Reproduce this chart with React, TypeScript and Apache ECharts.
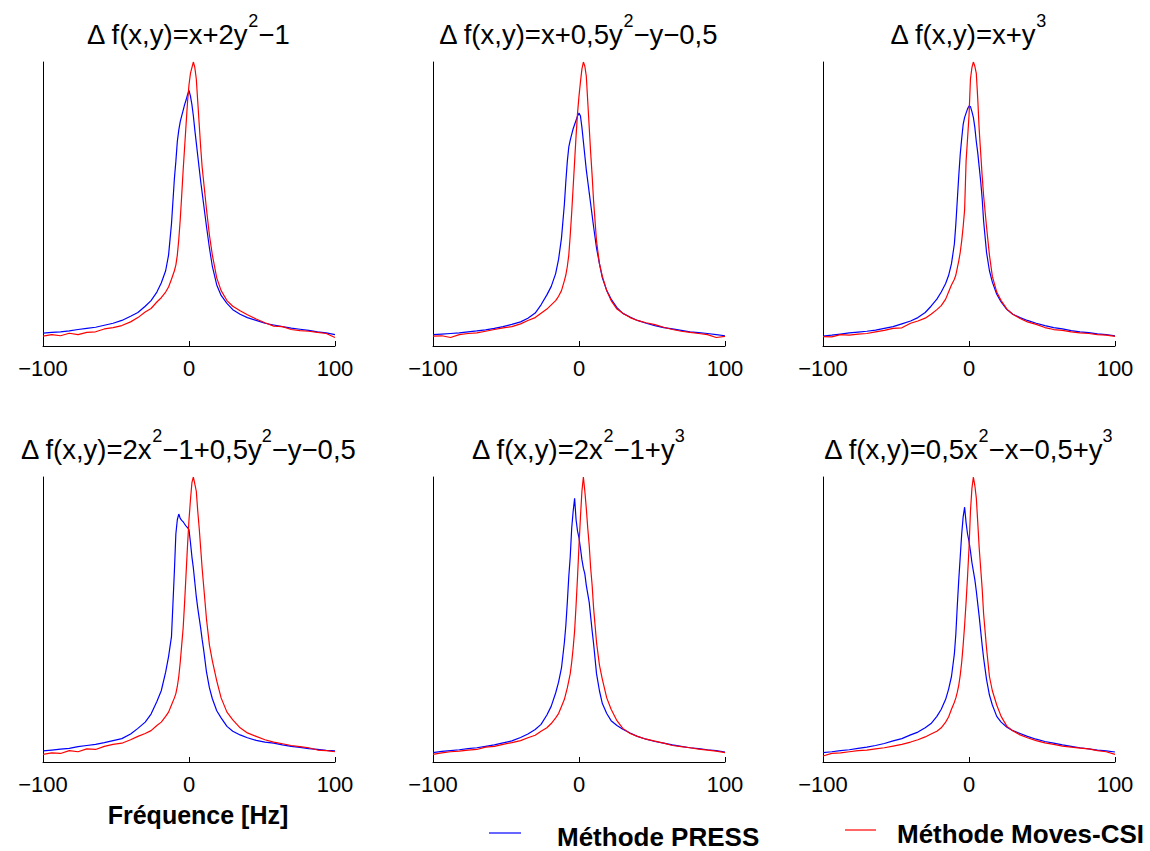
import React, { useEffect, useRef } from "react";
import * as echarts from "echarts";

const FONT = '"Liberation Sans", Arial, Helvetica, sans-serif';

const freq = [-100, -94, -88, -82, -76, -70, -64, -58, -52, -46, -40, -35, -30, -26, -22, -19, -16, -14, -12, -10, -9, -8, -7, -6, -5, -4, -3, -2, -1, 0, 1, 2, 3, 4, 5, 6, 7, 8, 9, 10, 12, 14, 16, 19, 22, 26, 30, 35, 40, 46, 52, 58, 64, 70, 76, 82, 88, 94, 100];

const press1 = [0.045, 0.048, 0.05, 0.053, 0.058, 0.062, 0.066, 0.073, 0.08, 0.09, 0.105, 0.118, 0.14, 0.16, 0.19, 0.222, 0.265, 0.32, 0.43, 0.59, 0.65, 0.72, 0.76, 0.79, 0.81, 0.83, 0.85, 0.866, 0.885, 0.9, 0.88, 0.85, 0.81, 0.76, 0.715, 0.67, 0.625, 0.58, 0.54, 0.5, 0.42, 0.345, 0.28, 0.215, 0.178, 0.15, 0.128, 0.112, 0.1, 0.09, 0.08, 0.074, 0.068, 0.063, 0.059, 0.055, 0.05, 0.046, 0.04];
const moves1 = [0.035, 0.04, 0.036, 0.045, 0.04, 0.048, 0.05, 0.06, 0.065, 0.072, 0.085, 0.1, 0.12, 0.132, 0.155, 0.17, 0.19, 0.208, 0.235, 0.265, 0.285, 0.32, 0.375, 0.445, 0.53, 0.62, 0.7, 0.78, 0.86, 0.92, 0.96, 0.98, 1.0, 0.98, 0.94, 0.86, 0.78, 0.7, 0.63, 0.58, 0.48, 0.39, 0.32, 0.24, 0.195, 0.16, 0.14, 0.124, 0.11, 0.095, 0.082, 0.07, 0.068, 0.058, 0.054, 0.052, 0.048, 0.044, 0.03];

const press2 = [0.04, 0.042, 0.044, 0.046, 0.05, 0.053, 0.057, 0.062, 0.068, 0.076, 0.085, 0.098, 0.116, 0.145, 0.18, 0.21, 0.255, 0.305, 0.38, 0.5, 0.58, 0.65, 0.7, 0.725, 0.745, 0.765, 0.78, 0.795, 0.81, 0.82, 0.81, 0.77, 0.72, 0.67, 0.62, 0.58, 0.54, 0.5, 0.46, 0.42, 0.345, 0.29, 0.24, 0.195, 0.165, 0.135, 0.115, 0.102, 0.09, 0.08, 0.072, 0.065, 0.06, 0.055, 0.05, 0.047, 0.044, 0.04, 0.036];
const moves2 = [0.035, 0.036, 0.03, 0.04, 0.044, 0.046, 0.052, 0.058, 0.064, 0.068, 0.078, 0.09, 0.1, 0.115, 0.13, 0.145, 0.16, 0.175, 0.195, 0.23, 0.25, 0.28, 0.32, 0.39, 0.47, 0.56, 0.65, 0.74, 0.82, 0.88, 0.93, 0.975, 1.0, 0.985, 0.95, 0.86, 0.77, 0.68, 0.6, 0.51, 0.37, 0.29, 0.245, 0.195, 0.16, 0.13, 0.115, 0.1, 0.09, 0.082, 0.075, 0.066, 0.058, 0.052, 0.048, 0.044, 0.04, 0.03, 0.034];

const press3 = [0.035, 0.038, 0.042, 0.046, 0.049, 0.052, 0.056, 0.062, 0.068, 0.078, 0.088, 0.1, 0.118, 0.14, 0.165, 0.19, 0.22, 0.248, 0.29, 0.36, 0.43, 0.515, 0.6, 0.675, 0.73, 0.78, 0.805, 0.82, 0.835, 0.845, 0.843, 0.825, 0.805, 0.77, 0.72, 0.68, 0.63, 0.58, 0.52, 0.44, 0.33, 0.265, 0.225, 0.182, 0.155, 0.128, 0.112, 0.1, 0.09, 0.08, 0.072, 0.065, 0.06, 0.054, 0.05, 0.047, 0.043, 0.04, 0.036];
const moves3 = [0.033, 0.032, 0.04, 0.038, 0.042, 0.044, 0.05, 0.055, 0.062, 0.064, 0.08, 0.088, 0.098, 0.112, 0.128, 0.142, 0.165, 0.19, 0.215, 0.235, 0.25, 0.275, 0.3, 0.33, 0.37, 0.42, 0.48, 0.65, 0.73, 0.81, 0.94, 0.98, 1.0, 0.985, 0.96, 0.87, 0.76, 0.68, 0.6, 0.53, 0.42, 0.32, 0.245, 0.19, 0.16, 0.13, 0.112, 0.097, 0.085, 0.076, 0.065, 0.058, 0.055, 0.05, 0.046, 0.044, 0.04, 0.038, 0.034];

const press4 = [0.039, 0.042, 0.045, 0.048, 0.054, 0.058, 0.062, 0.068, 0.075, 0.082, 0.098, 0.118, 0.14, 0.168, 0.212, 0.25, 0.315, 0.37, 0.44, 0.67, 0.8, 0.85, 0.87, 0.855, 0.848, 0.843, 0.835, 0.828, 0.822, 0.815, 0.77, 0.72, 0.68, 0.63, 0.58, 0.54, 0.505, 0.47, 0.43, 0.395, 0.315, 0.26, 0.222, 0.18, 0.155, 0.125, 0.108, 0.095, 0.085, 0.076, 0.07, 0.066, 0.06, 0.055, 0.051, 0.047, 0.044, 0.041, 0.039];
const moves4 = [0.027, 0.032, 0.03, 0.04, 0.036, 0.046, 0.044, 0.055, 0.062, 0.066, 0.078, 0.09, 0.1, 0.11, 0.128, 0.14, 0.16, 0.175, 0.2, 0.225, 0.24, 0.265, 0.3, 0.35, 0.41, 0.47, 0.56, 0.66, 0.76, 0.85, 0.92, 0.98, 1.0, 0.975, 0.95, 0.88, 0.82, 0.75, 0.68, 0.62, 0.5, 0.41, 0.355, 0.285, 0.225, 0.175, 0.148, 0.12, 0.102, 0.09, 0.078, 0.07, 0.064, 0.058, 0.054, 0.05, 0.042, 0.04, 0.036];

const press5 = [0.033, 0.037, 0.04, 0.043, 0.047, 0.05, 0.055, 0.06, 0.067, 0.074, 0.086, 0.098, 0.114, 0.132, 0.165, 0.196, 0.242, 0.28, 0.33, 0.42, 0.48, 0.56, 0.65, 0.72, 0.82, 0.88, 0.925, 0.85, 0.81, 0.786, 0.75, 0.71, 0.68, 0.66, 0.62, 0.59, 0.56, 0.51, 0.46, 0.415, 0.31, 0.25, 0.205, 0.17, 0.145, 0.128, 0.115, 0.102, 0.09, 0.08, 0.072, 0.066, 0.06, 0.055, 0.05, 0.047, 0.043, 0.04, 0.035];
const moves5 = [0.027, 0.032, 0.036, 0.038, 0.042, 0.044, 0.052, 0.055, 0.062, 0.068, 0.075, 0.085, 0.094, 0.108, 0.12, 0.135, 0.155, 0.17, 0.195, 0.22, 0.24, 0.26, 0.285, 0.31, 0.35, 0.4, 0.46, 0.55, 0.65, 0.76, 0.86, 0.95, 1.0, 0.95, 0.89, 0.82, 0.76, 0.68, 0.62, 0.54, 0.42, 0.34, 0.29, 0.225, 0.185, 0.145, 0.118, 0.1, 0.09, 0.08, 0.073, 0.066, 0.058, 0.054, 0.05, 0.045, 0.042, 0.038, 0.033];

const press6 = [0.033, 0.036, 0.04, 0.043, 0.048, 0.052, 0.058, 0.065, 0.074, 0.082, 0.095, 0.105, 0.12, 0.135, 0.16, 0.185, 0.22, 0.255, 0.3, 0.38, 0.45, 0.55, 0.64, 0.72, 0.8, 0.86, 0.894, 0.84, 0.8, 0.774, 0.74, 0.7, 0.67, 0.64, 0.6, 0.555, 0.51, 0.46, 0.41, 0.365, 0.29, 0.235, 0.2, 0.16, 0.14, 0.122, 0.11, 0.1, 0.09, 0.08, 0.072, 0.066, 0.06, 0.055, 0.05, 0.046, 0.042, 0.039, 0.035];
const moves6 = [0.021, 0.03, 0.032, 0.036, 0.04, 0.042, 0.046, 0.05, 0.056, 0.062, 0.07, 0.078, 0.088, 0.098, 0.108, 0.12, 0.14, 0.158, 0.185, 0.21, 0.225, 0.245, 0.27, 0.305, 0.35, 0.41, 0.48, 0.56, 0.65, 0.75, 0.88, 0.96, 1.0, 0.97, 0.927, 0.84, 0.75, 0.68, 0.61, 0.52, 0.4, 0.3, 0.25, 0.2, 0.16, 0.125, 0.11, 0.095, 0.085, 0.075, 0.067, 0.062, 0.056, 0.052, 0.049, 0.046, 0.04, 0.036, 0.027];

const xTicks = [-100, 0, 100];

const titles = [
  "{t|Δ f(x,y)=x+2y}{s|2}{t|−1}",
  "{t|Δ f(x,y)=x+0,5y}{s|2}{t|−y−0,5}",
  "{t|Δ f(x,y)=x+y}{s|3}",
  "{t|Δ f(x,y)=2x}{s|2}{t|−1+0,5y}{s|2}{t|−y−0,5}",
  "{t|Δ f(x,y)=2x}{s|2}{t|−1+y}{s|3}",
  "{t|Δ f(x,y)=0,5x}{s|2}{t|−x−0,5+y}{s|3}",
];

const pressSeries = [press1, press2, press3, press4, press5, press6];
const movesSeries = [moves1, moves2, moves3, moves4, moves5, moves6];
const legendNames = ["Méthode PRESS", "Méthode Moves-CSI"];
const xAxisName = "Fréquence [Hz]";

const colLeft = [43, 433, 823];
const rowTop = [62, 477];
const gridW = 292;
const gridH = [284, 285];

export default function App() {
  const ref = useRef<HTMLDivElement>(null);
  useEffect(() => {
    document.body.style.margin = "0";
    const chart = echarts.init(ref.current!, null, { renderer: "svg" });
    const grids: any[] = [];
    const xAxes: any[] = [];
    const yAxes: any[] = [];
    const series: any[] = [];
    const graphics: any[] = [];
    for (let i = 0; i < 6; i++) {
      const r = Math.floor(i / 3);
      const c = i % 3;
      grids.push({ left: colLeft[c], top: rowTop[r], width: gridW, height: gridH[r], containLabel: false });
      xAxes.push({
        gridIndex: i,
        type: "value",
        min: -100,
        max: 100,
        interval: 100,
        axisLine: { show: true, onZero: false, lineStyle: { color: "#000", width: 1 } },
        axisTick: { show: true, inside: true, length: 5, lineStyle: { color: "#000" } },
        axisLabel: {
          fontSize: 22,
          color: "#000",
          fontFamily: FONT,
          margin: 11,
          formatter: (v: number) => (xTicks.includes(v) ? (v < 0 ? "−" + Math.abs(v) : String(v)) : ""),
        },
        splitLine: { show: false },
      });
      yAxes.push({
        gridIndex: i,
        type: "value",
        min: 0,
        max: 1,
        axisLine: { show: true, onZero: false, lineStyle: { color: "#000", width: 1 } },
        axisTick: { show: false },
        axisLabel: { show: false },
        splitLine: { show: false },
      });
      series.push({
        type: "line",
        name: legendNames[0],
        xAxisIndex: i,
        yAxisIndex: i,
        data: freq.map((f, k) => [f, pressSeries[i][k]]),
        showSymbol: false,
        symbol: "none",
        lineStyle: { color: "#0000ff", width: 1.2 },
        itemStyle: { color: "#0000ff" },
      });
      series.push({
        type: "line",
        name: legendNames[1],
        xAxisIndex: i,
        yAxisIndex: i,
        data: freq.map((f, k) => [f, movesSeries[i][k]]),
        showSymbol: false,
        symbol: "none",
        lineStyle: { color: "#ff0000", width: 1.2 },
        itemStyle: { color: "#ff0000" },
      });
      graphics.push({
        type: "text",
        x: colLeft[c] + gridW / 2 - 1,
        y: r === 0 ? 30 : 445,
        style: {
          text: titles[i],
          align: "center",
          verticalAlign: "middle",
          fill: "#000",
          rich: {
            t: { fontSize: 27.5, fontFamily: FONT, fill: "#000", verticalAlign: "bottom", lineHeight: 36 },
            s: { fontSize: 18, fontFamily: FONT, fill: "#000", verticalAlign: "top", lineHeight: 36, padding: [0, 0, 6, 0] },
          },
        },
      });
    }
    graphics.push({
      type: "text",
      x: 198,
      y: 815,
      style: { text: xAxisName, align: "center", verticalAlign: "middle", fontSize: 25, fontWeight: "bold", fontFamily: FONT, fill: "#000" },
    });
    graphics.push({ type: "line", shape: { x1: 489, y1: 833, x2: 521, y2: 833 }, style: { stroke: "#0000ff", lineWidth: 1.2 } });
    graphics.push({
      type: "text",
      x: 557,
      y: 837,
      style: { text: legendNames[0], align: "left", verticalAlign: "middle", fontSize: 26, fontWeight: "bold", fontFamily: FONT, fill: "#000" },
    });
    graphics.push({ type: "line", shape: { x1: 845, y1: 830, x2: 876, y2: 830 }, style: { stroke: "#ff0000", lineWidth: 1.2 } });
    graphics.push({
      type: "text",
      x: 897,
      y: 834,
      style: { text: legendNames[1], align: "left", verticalAlign: "middle", fontSize: 26, fontWeight: "bold", fontFamily: FONT, fill: "#000" },
    });

    chart.setOption({
      animation: false,
      backgroundColor: "#fff",
      grid: grids,
      xAxis: xAxes,
      yAxis: yAxes,
      series,
      graphic: graphics,
    });
    return () => chart.dispose();
  }, []);
  return <div ref={ref} style={{ width: 1150, height: 851 }} />;
}
